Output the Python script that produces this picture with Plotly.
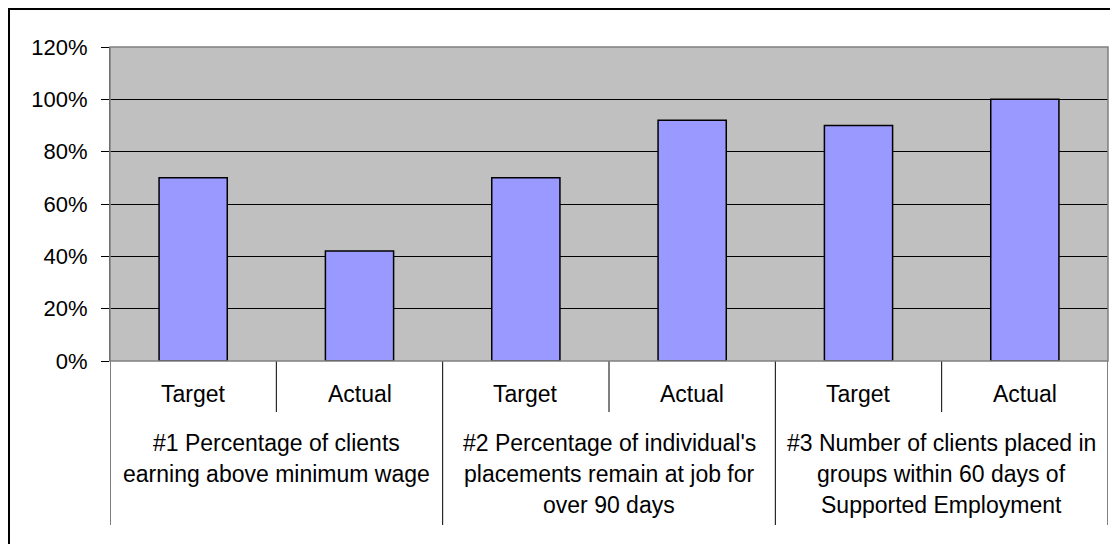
import plotly.graph_objects as go

# ---- data ----
sub_labels = ["Target", "Actual", "Target", "Actual", "Target", "Actual"]
values = [0.70, 0.42, 0.70, 0.92, 0.90, 1.00]
group_lines = [
    ["#1 Percentage of clients", "earning above minimum wage"],
    ["#2 Percentage of individual's", "placements remain at job for", "over 90 days"],
    ["#3 Number of clients placed in", "groups within 60 days of", "Supported Employment"],
]
y_ticks = [0, 0.2, 0.4, 0.6, 0.8, 1.0, 1.2]

FONT = "Liberation Sans, Arial, sans-serif"
FS_TICK = 22
FS_LAB = 23
W, H = 1118, 544
ML, MR, MT, MB = 102, 18, 39, 191
PH = H - MT - MB  # plot height px
PW = W - ML - MR  # plot width px

x_idx = list(range(len(values)))

fig = go.Figure()
fig.add_trace(go.Bar(
    x=x_idx, y=values,
    marker=dict(color="#9999FF", line=dict(color="#000000", width=1.5)),
    hoverinfo="skip",
))

def py(px_below):
    """paper y for a pixel distance below the plot bottom"""
    return -px_below / PH

shapes = []
# short dividers between Target / Actual
for g in range(3):
    xd = 2 * g + 0.5
    shapes.append(dict(type="line", xref="x", yref="paper", x0=xd, x1=xd,
                       y0=0, y1=py(51), line=dict(color="#000000", width=1)))
# long dividers between groups
for xd in [-0.5, 1.5, 3.5, 5.5]:
    shapes.append(dict(type="line", xref="x", yref="paper", x0=xd, x1=xd,
                       y0=0, y1=py(164), line=dict(color="#000000", width=1)))
# plot area border (gray)
shapes.append(dict(type="rect", xref="paper", yref="paper", x0=0, x1=1, y0=0, y1=1,
                   line=dict(color="#808080", width=1.5), layer="above"))
# outer chart frame at the figure edge
shapes.append(dict(type="rect", xref="paper", yref="paper",
                   x0=(1 - ML) / PW, x1=(W - 1 - ML) / PW,
                   y0=-(MB - 1) / PH, y1=(PH + MT - 1) / PH,
                   line=dict(color="#000000", width=2)))

annotations = []
for i, lab in enumerate(sub_labels):
    annotations.append(dict(text=lab, x=i, xref="x", y=0, yref="paper",
                            yanchor="middle", xanchor="center", yshift=-32.5,
                            showarrow=False, font=dict(family=FONT, size=FS_LAB, color="#000000")))
for g, lines in enumerate(group_lines):
    for k, line in enumerate(lines):
        annotations.append(dict(text=line, x=2 * g + 0.5, xref="x", y=0, yref="paper",
                                yanchor="middle", xanchor="center", yshift=-(82 + 31 * k),
                                showarrow=False, font=dict(family=FONT, size=FS_LAB, color="#000000")))

fig.update_layout(
    width=W, height=H,
    margin=dict(l=ML, r=MR, t=MT, b=MB, pad=0),
    paper_bgcolor="#FFFFFF",
    plot_bgcolor="#C0C0C0",
    showlegend=False,
    bargap=0.59,
    font=dict(family=FONT, size=FS_TICK, color="#000000"),
    xaxis=dict(range=[-0.5, 5.5], showticklabels=False, ticks="", showgrid=False,
               zeroline=False, showline=False, fixedrange=True),
    yaxis=dict(range=[0, 1.2], tickvals=y_ticks, tickformat=".0%",
               showgrid=True, gridcolor="#000000", gridwidth=1,
               ticks="outside", ticklen=8, tickcolor="#000000", tickwidth=1,
               ticklabelstandoff=9,
               showline=True, linecolor="#404040", linewidth=1,
               zeroline=False, fixedrange=True,
               tickfont=dict(family=FONT, size=FS_TICK, color="#000000")),
    shapes=shapes,
    annotations=annotations,
)

fig.write_html("out.html", config={"displayModeBar": False})
